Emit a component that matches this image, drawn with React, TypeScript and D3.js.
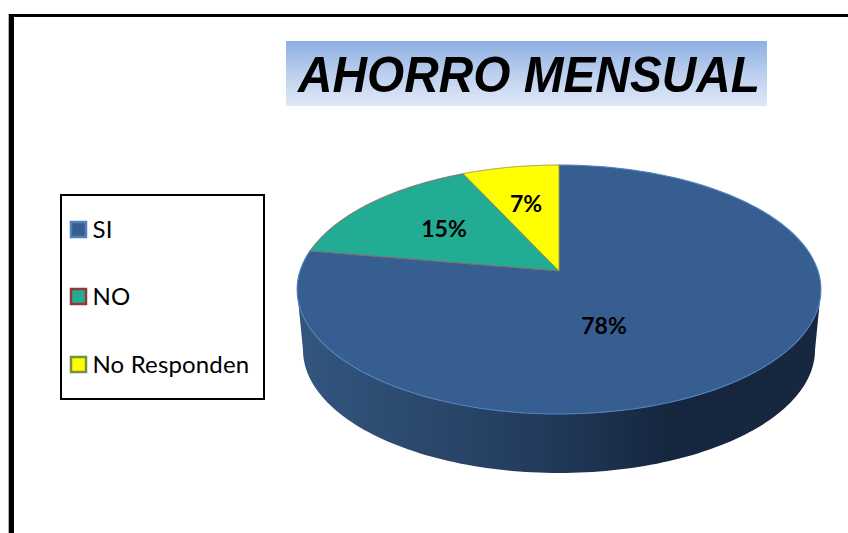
import React from "react";
import * as d3 from "d3";

const categories = ["SI", "NO", "No Responden"];
const values = [77.7, 15.4, 6.9];
const fills = ["#375e91", "#22ac94", "#ffff00"];
const strokes = ["#4f81bd", "#a05a5a", "#8a8a30"];
const swatchStrokes = ["#4f81bd", "#953735", "#76923c"];
const labelPos = [[604, 326], [444, 229], [526, 204]];
const legendY = [230, 297, 365];

const W = 848, H = 533;
const cx = 559, cy = 271;
const R = 259, S = 121.75, K = -0.1486;
const DEPTH_CY = 350, DEPTH_RX = 256, DEPTH_RY = 123;

const proj = (a: number): [number, number] => {
  const u = Math.sin(a), v = -Math.cos(a);
  const w = 1 + K * v;
  return [cx + (R * u) / w, cy + (S * v) / w];
};
const line = d3.line();
const arcs = d3.pie<number>().sort(null)(values);
const slicePath = (a0: number, a1: number) => {
  const ts = d3.range(0, 121).map((i) => a0 + ((a1 - a0) * i) / 120);
  return line([[cx, cy], ...ts.map(proj)]) + "Z";
};
const wallPath = () => {
  const topCy = 289.5, topRy = 124.5, topRx = 262;
  const ts = d3.range(0, 121).map((i) => (Math.PI * i) / 120);
  const upper = ts.map((t) => [cx + topRx * Math.cos(t), topCy + topRy * Math.sin(t)] as [number, number]);
  const lower = ts.slice().reverse().map((t) => [cx + DEPTH_RX * Math.cos(t), DEPTH_CY + DEPTH_RY * Math.sin(t)] as [number, number]);
  return line([...upper, ...lower]) + "Z";
};

export default function App() {
  return (
    <svg width={W} height={H} viewBox={`0 0 ${W} ${H}`} style={{ position: "fixed", left: 0, top: 0, background: "#fff" }}>
      <defs>
        <linearGradient id="t" x1="0" y1="0" x2="0" y2="1">
          <stop offset="0" stopColor="#8cafe2" />
          <stop offset="0.5" stopColor="#bccfee" />
          <stop offset="1" stopColor="#e0e8f6" />
        </linearGradient>
        <linearGradient id="w" x1="0" y1="0" x2="1" y2="0">
          <stop offset="0" stopColor="#33567f" />
          <stop offset="0.45" stopColor="#233c5d" />
          <stop offset="0.72" stopColor="#15263e" />
          <stop offset="1" stopColor="#16273f" />
        </linearGradient>
      </defs>
      <path d={`M11.5 ${H}V15.5H${W}`} fill="none" stroke="#000" strokeWidth={3} />
      <rect x={8.7} y={14} width={5.3} height={H} fill="#000" />
      <rect x={286} y={41} width={481} height={65} fill="url(#t)" />
      <text x={298} y={92} fontFamily="Liberation Sans" fontWeight="bold" fontStyle="italic" fontSize={50.5} textLength={462} lengthAdjust="spacingAndGlyphs">AHORRO MENSUAL</text>
      <rect x={61} y={195} width={203} height={204} fill="#fff" stroke="#000" strokeWidth={2} />
      {categories.map((c, i) => (
        <g key={c}>
          <rect x={71} y={legendY[i] - 8} width={15} height={15} fill={fills[i]} stroke={swatchStrokes[i]} strokeWidth={2.5} />
          <text x={92.5} y={legendY[i] + 8} fontFamily="Lato" fontSize={24} letterSpacing={0.15}>{c}</text>
        </g>
      ))}
      <path d={wallPath()} fill="url(#w)" />
      {arcs.map((arc, i) => (
        <path key={i} d={slicePath(arc.startAngle, arc.endAngle)} fill={fills[i]} stroke={strokes[i]} strokeWidth={i === 0 ? 1.1 : 0.8} />
      ))}
      {values.map((v, i) => (
        <text key={i} x={labelPos[i][0]} y={labelPos[i][1]} dy="0.35em" textAnchor="middle" fontFamily="Lato" fontWeight="bold" fontSize={23}>{Math.round(v)}%</text>
      ))}
    </svg>
  );
}
